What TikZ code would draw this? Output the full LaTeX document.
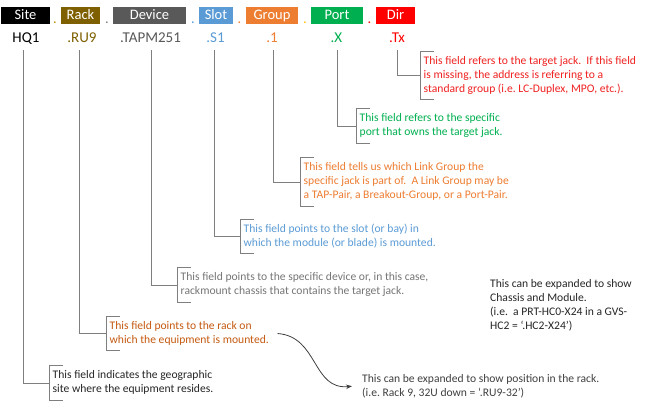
\documentclass[tikz,border=0pt]{standalone}
\usepackage{fontspec}
\setmainfont{Carlito}
\usetikzlibrary{arrows.meta}
\definecolor{cRack}{HTML}{7F6000}
\definecolor{cDev}{HTML}{595959}
\definecolor{cSlot}{HTML}{5B9BD5}
\definecolor{cGrp}{HTML}{ED7D31}
\definecolor{cPort}{HTML}{00B050}
\definecolor{cDir}{HTML}{FF0000}
\definecolor{cDot}{HTML}{BF9000}
\definecolor{cYel}{HTML}{FFC000}
\definecolor{cLine}{HTML}{7F7F7F}
\definecolor{tDir}{HTML}{F02020}
\definecolor{tDev}{HTML}{767676}
\definecolor{tRack}{HTML}{C55A11}
\definecolor{tDark}{HTML}{262626}
\definecolor{tGray}{HTML}{404040}
\newcommand\brk[1]{\draw[ln] ([xshift=14pt]#1.north west) -- (#1.north west) -- (#1.south west) -- ([xshift=14pt]#1.south west);}
\frenchspacing
\begin{document}
\begin{tikzpicture}[x=1pt,y=-1pt,
  hdr/.style={fill=#1, text=white, inner xsep=0pt, inner ysep=0pt, text height=12.5pt, text depth=4.5pt, font=\fontsize{14.5}{17}\selectfont},
  val/.style={text=#1, anchor=base, inner sep=0pt, font=\fontsize{15}{18}\selectfont},
  dotn/.style={text=#1, anchor=base, inner sep=0pt, font=\fontsize{14.5}{17}\selectfont},
  blk/.style={text=#1, anchor=west, align=left, inner xsep=3.5pt, inner ysep=3pt, font=\fontsize{11.6}{14}\selectfont},
  note/.style={text=#1, anchor=north west, align=left, inner sep=0pt, font=\fontsize{11.6}{14}\selectfont},
  ln/.style={draw=cLine, line width=0.8pt},
  arr/.style={draw=tGray, line width=0.8pt, -{Stealth[length=6pt,width=4.5pt]}}]
\fill[white] (0,0) rectangle (650,408);
\useasboundingbox (0,0) rectangle (650,408);
% header boxes
\node[hdr=black, minimum width=49pt] (hSite) at (25.5,15.5) {Site};
\node[hdr=cRack, minimum width=39pt] (hRack) at (80.5,15.5) {Rack};
\node[hdr=cDev, minimum width=73pt] (hDev) at (149.5,15.5) {Device};
\node[hdr=cSlot, minimum width=34pt] (hSlot) at (216,15.5) {Slot};
\node[hdr=cGrp, minimum width=52pt] (hGrp) at (272,15.5) {Group};
\node[hdr=cPort, minimum width=52pt] (hPort) at (337,15.5) {Port};
\node[hdr=cDir, minimum width=39pt] (hDir) at (395.5,15.5) {Dir};
% dots
\node[dotn=cDot] (d1) at (55,23) {.};
\node[dotn=cLine] (d2) at (107,23) {.};
\node[dotn=cSlot] (d3) at (193,23) {.};
\node[dotn=cGrp] (d4) at (239.5,23) {.};
\node[dotn=cYel] (d5) at (305,23) {.};
\node[dotn=cDir] (d6) at (369.5,23) {.};
% values
\node[val=black] (vSite) at (26,42) {HQ1};
\node[val=cRack] (vRack) at (82,42) {.RU9};
\node[val=cDev] (vDev) at (150.5,42) {.TAPM251};
\node[val=cSlot] (vSlot) at (215.5,42) {.S1};
\node[val=cGrp] (vGrp) at (272,42) {.1};
\node[val=cPort] (vPort) at (336.5,42) {.X};
\node[val=cDir] (vDir) at (397,42) {.Tx};
% line tops
\coordinate (cSite) at (23,50);
\coordinate (cRack) at (79,50);
\coordinate (cDev) at (151,50);
\coordinate (cSlot) at (214,50);
\coordinate (cGrp) at (273,50);
\coordinate (cPort) at (337,50);
\coordinate (cDir) at (397,50);
% description blocks
\node[blk=tDir] (bDir) at (420,75.5) {\strut This field refers to the target jack.\ \ If this field\\\strut is missing, the address is referring to a\\\strut standard group (i.e. LC-Duplex, MPO, etc.).};
\node[blk=cPort] (bPort) at (356,126) {\strut This field refers to the specific\\\strut port that owns the target jack.};
\node[blk=cGrp] (bGrp) at (300,182) {\strut This field tells us which Link Group the\\\strut specific jack is part of.\ \ A Link Group may be\\\strut a TAP-Pair, a Breakout-Group, or a Port-Pair.};
\node[blk=cSlot] (bSlot) at (240,236.5) {\strut This field points to the slot (or bay) in\\\strut which the module (or blade) is mounted.};
\node[blk=tDev] (bDev) at (177,285) {\strut This field points to the specific device or, in this case,\\\strut rackmount chassis that contains the target jack.};
\node[blk=tRack] (bRack) at (106,333.5) {\strut This field points to the rack on\\\strut which the equipment is mounted.};
\node[blk=tDark] (bSite) at (49,383) {\strut This field indicates the geographic\\\strut site where the equipment resides.};
% notes
\node[note=tDark] (nChassis) at (490,277) {\strut This can be expanded to show\\\strut Chassis and Module.\\\strut (i.e.\ \ a PRT-HC0-X24 in a GVS-\\\strut HC2 = ‘.HC2-X24’)};
\node[note=tGray] (nRack) at (362,372) {\strut This can be expanded to show position in the rack.\\\strut (i.e. Rack 9, 32U down = ‘.RU9-32’)};
% connectors
\draw[ln] (cDir) |- (bDir.west);
\draw[ln] (cPort) |- (bPort.west);
\draw[ln] (cGrp) |- (bGrp.west);
\draw[ln] (cSlot) |- (bSlot.west);
\draw[ln] (cDev) |- (bDev.west);
\draw[ln] (cRack) |- (bRack.west);
\draw[ln] (cSite) |- (bSite.west);
\brk{bDir}\brk{bPort}\brk{bGrp}\brk{bSlot}\brk{bDev}\brk{bRack}\brk{bSite}
\draw[arr] ([xshift=5pt]bRack.east) .. controls +(41,3) and +(-40,4) .. ([xshift=-10pt]nRack.west);
\end{tikzpicture}
\end{document}
